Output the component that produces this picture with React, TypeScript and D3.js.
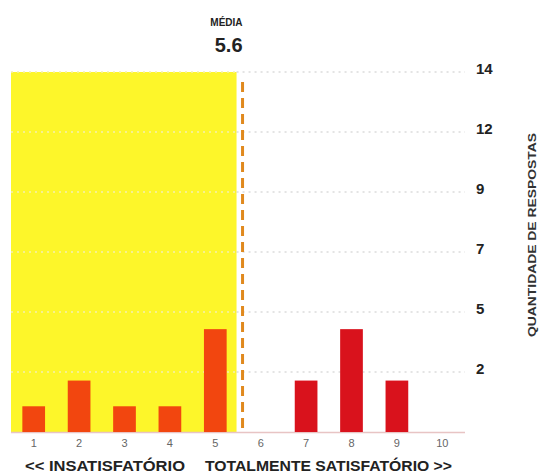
import React from 'react';
import * as d3 from 'd3';

const scores = ['1', '2', '3', '4', '5', '6', '7', '8', '9', '10'];
const counts = [1, 2, 1, 1, 4, 0, 2, 4, 2, 0];
const mean = 5.6;
const yTickValues = [7 / 3, 14 / 3, 7, 28 / 3, 35 / 3, 14];
const yTickLabels = ['2', '5', '7', '9', '12', '14'];
const yMax = 14;

const W = 541;
const H = 474;

const App: React.FC = () => {
  const ref = React.useRef<SVGSVGElement>(null);

  React.useEffect(() => {
    const svg = d3.select(ref.current);
    svg.selectAll('*').remove();

    const left = 11;
    const right = 465;
    const top = 72;
    const bottom = 432;

    const x = d3.scaleBand<string>().domain(scores).range([left, right]).paddingInner(0.5).paddingOuter(0.25);
    const y = d3.scaleLinear().domain([0, yMax]).range([bottom, top]);
    const center = (s: string) => (x(s) as number) + x.bandwidth() / 2;
    const xm = d3
      .scaleLinear()
      .domain([1, 10])
      .range([center('1'), center('10')]);
    const meanX = xm(mean);
    const yellowEnd = meanX - 6;

    // zona insatisfatoria
    svg
      .append('rect')
      .attr('x', left)
      .attr('y', y(yMax))
      .attr('width', yellowEnd - left)
      .attr('height', y(0) - y(yMax))
      .attr('fill', '#fdf62a');

    // grade
    svg
      .selectAll('line.grid')
      .data(yTickValues)
      .enter()
      .append('line')
      .attr('x1', yellowEnd)
      .attr('x2', right)
      .attr('y1', (d) => y(d))
      .attr('y2', (d) => y(d))
      .attr('stroke', '#c4c4c4')
      .attr('stroke-opacity', 0.6)
      .attr('stroke-width', 1.5)
      .attr('stroke-dasharray', '2,4');

    svg
      .selectAll('line.gridy')
      .data(yTickValues)
      .enter()
      .append('line')
      .attr('x1', left)
      .attr('x2', yellowEnd)
      .attr('y1', (d) => y(d))
      .attr('y2', (d) => y(d))
      .attr('stroke', '#f4f0b0')
      .attr('stroke-width', 1.5)
      .attr('stroke-dasharray', '2,4');

    svg
      .selectAll('text.ytick')
      .data(yTickValues)
      .enter()
      .append('text')
      .attr('x', 476)
      .attr('y', (d) => y(d) + 2)
      .attr('font-family', 'Liberation Sans, Arial, sans-serif')
      .attr('font-size', 15)
      .attr('font-weight', 'bold')
      .attr('fill', '#222')
      .text((_d, i) => yTickLabels[i]);

    svg
      .append('line')
      .attr('x1', left)
      .attr('x2', right)
      .attr('y1', y(0) + 0.5)
      .attr('y2', y(0) + 0.5)
      .attr('stroke', '#e8c4c4')
      .attr('stroke-width', 1.5);

    svg
      .selectAll('rect.bar')
      .data(counts)
      .enter()
      .append('rect')
      .attr('x', (_d, i) => x(scores[i]) as number)
      .attr('y', (d) => y(d))
      .attr('width', x.bandwidth())
      .attr('height', (d) => y(0) - y(d))
      .attr('fill', (_d, i) => (+scores[i] < mean ? '#f2460f' : '#d9121c'));

    svg
      .append('line')
      .attr('x1', meanX)
      .attr('x2', meanX)
      .attr('y1', y(yMax) + 10)
      .attr('y2', y(0))
      .attr('stroke', '#e0891e')
      .attr('stroke-width', 3)
      .attr('stroke-dasharray', '10,6');

    svg
      .append('text')
      .attr('x', meanX)
      .attr('y', 26)
      .attr('text-anchor', 'end')
      .attr('font-family', 'Liberation Sans, Arial, sans-serif')
      .attr('font-size', 10)
      .attr('font-weight', 'bold')
      .attr('fill', '#222')
      .text('MÉDIA');

    svg
      .append('text')
      .attr('x', meanX)
      .attr('y', 52)
      .attr('text-anchor', 'end')
      .attr('font-family', 'Liberation Sans, Arial, sans-serif')
      .attr('font-size', 20)
      .attr('font-weight', 'bold')
      .attr('fill', '#222')
      .text(mean.toFixed(1));

    svg
      .selectAll('text.xtick')
      .data(scores)
      .enter()
      .append('text')
      .attr('x', (d) => center(d))
      .attr('y', 447)
      .attr('text-anchor', 'middle')
      .attr('font-family', 'Liberation Sans, Arial, sans-serif')
      .attr('font-size', 11)
      .attr('fill', '#666')
      .text((d) => d);

    svg
      .append('text')
      .attr('x', 25)
      .attr('y', 471)
      .attr('font-family', 'Liberation Sans Narrow, Liberation Sans, Arial, sans-serif')
      .attr('font-size', 15)
      .attr('font-weight', 'bold')
      .attr('fill', '#222')
      .attr('textLength', 160)
      .attr('lengthAdjust', 'spacingAndGlyphs')
      .text('<< INSATISFATÓRIO');

    svg
      .append('text')
      .attr('x', 205)
      .attr('y', 471)
      .attr('font-family', 'Liberation Sans Narrow, Liberation Sans, Arial, sans-serif')
      .attr('font-size', 15)
      .attr('font-weight', 'bold')
      .attr('fill', '#222')
      .attr('textLength', 247)
      .attr('lengthAdjust', 'spacingAndGlyphs')
      .text('TOTALMENTE SATISFATÓRIO >>');

    svg
      .append('text')
      .attr('transform', 'translate(536,235) rotate(-90)')
      .attr('text-anchor', 'middle')
      .attr('font-family', 'Liberation Sans, Arial, sans-serif')
      .attr('font-size', 11)
      .attr('font-weight', 'bold')
      .attr('fill', '#333')
      .attr('textLength', 204)
      .attr('lengthAdjust', 'spacingAndGlyphs')
      .text('QUANTIDADE DE RESPOSTAS');
  }, []);

  return (
    <svg
      ref={ref}
      width={W}
      height={H}
      style={{ position: 'absolute', left: 0, top: 0, background: '#fff' }}
    />
  );
};

export default App;
